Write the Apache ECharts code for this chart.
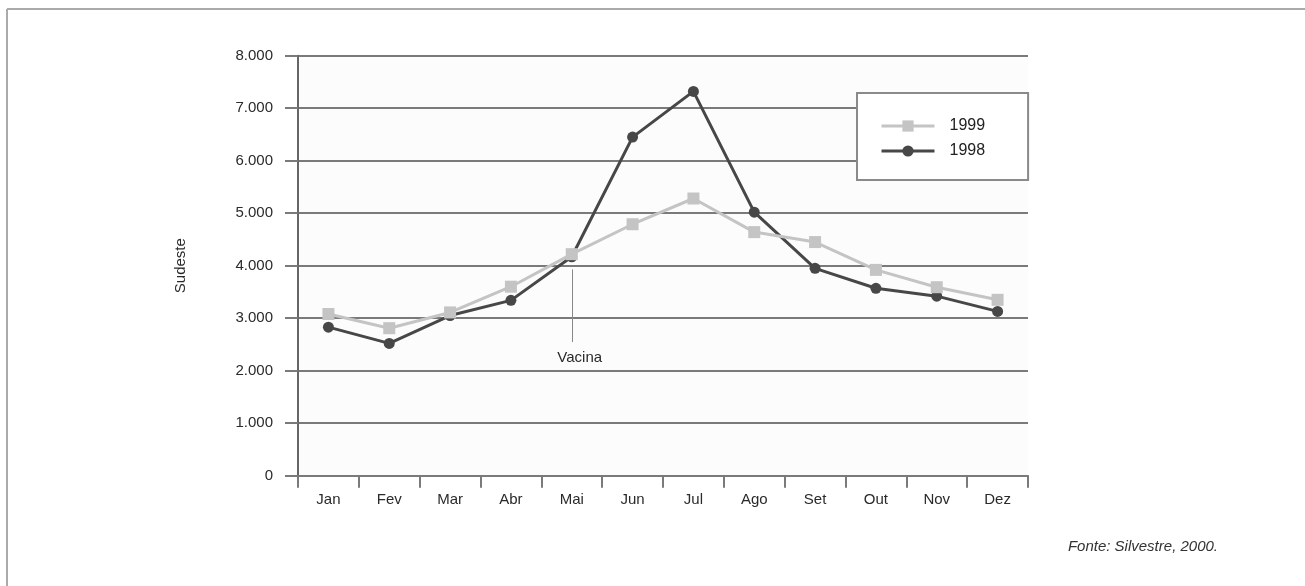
<!DOCTYPE html>
<html>
<head>
<meta charset="utf-8">
<script src="https://cdn.jsdelivr.net/npm/echarts@6/dist/echarts.min.js"></script>
<style>html,body{margin:0;padding:0;background:#fff}#c{width:1305px;height:586px}</style>
</head>
<body>
<div id="c"></div>
<script>
const categories = ['Jan','Fev','Mar','Abr','Mai','Jun','Jul','Ago','Set','Out','Nov','Dez'];
const values1999 = [3080, 2810, 3110, 3600, 4220, 4790, 5280, 4640, 4450, 3920, 3590, 3350];
const values1998 = [2830, 2520, 3050, 3340, 4170, 6450, 7320, 5020, 3950, 3570, 3420, 3130];
const vacinaMonth = 'Mai';
const vacinaRange = [3930, 2545];
const yTicks = [0, 1000, 2000, 3000, 4000, 5000, 6000, 7000, 8000];

const chart = echarts.init(document.getElementById('c'), null, {renderer: 'canvas'});
const font = 'Liberation Sans, Arial, sans-serif';
const gridColor = '#7a7a7a';

function fmt(v){
  if (v === 0) return '0';
  return String(v).replace(/\B(?=(\d{3})+(?!\d))/g, '.');
}

chart.setOption({
  animation: false,
  backgroundColor: '#fff',
  textStyle: {fontFamily: font},
  grid: {left: 298, right: 277, top: 55.7, bottom: 110.3, show: true, backgroundColor: '#fcfcfc', borderWidth: 0},
  legend: {
    data: ['1999', '1998'],
    orient: 'vertical',
    left: 857, top: 93,
    padding: [25, 43, 21, 23],
    itemWidth: 53, itemHeight: 14, itemGap: 9,
    backgroundColor: '#fff',
    borderColor: '#8a8a8a', borderWidth: 2, borderRadius: 0,
    lineStyle: {width: 3},
    textStyle: {fontSize: 16, color: '#222', fontFamily: font, padding: [0,0,0,10]}
  },
  xAxis: {
    type: 'category',
    data: categories,
    boundaryGap: true,
    axisLine: {show: true, lineStyle: {color: gridColor, width: 2}},
    axisTick: {show: true, length: 12, lineStyle: {color: gridColor, width: 2}},
    axisLabel: {color: '#2a2a2a', fontSize: 15, margin: 17, fontFamily: font},
    splitLine: {show: false}
  },
  yAxis: {
    type: 'value',
    min: yTicks[0], max: yTicks[yTicks.length-1], interval: 1000,
    name: 'Sudeste',
    nameLocation: 'middle',
    nameGap: 110,
    nameRotate: 90,
    nameTextStyle: {color: '#2a2a2a', fontSize: 15, fontFamily: font},
    axisLine: {show: true, lineStyle: {color: '#666', width: 2}},
    axisTick: {show: true, length: 13, lineStyle: {color: gridColor, width: 2}},
    axisLabel: {color: '#2a2a2a', fontSize: 15, margin: 25, formatter: fmt, fontFamily: font},
    splitLine: {show: true, lineStyle: {color: gridColor, width: 2}}
  },
  series: [
    {
      name: '1998',
      type: 'line',
      data: values1998,
      symbol: 'circle',
      symbolSize: 11,
      color: '#474747',
      lineStyle: {color: '#474747', width: 3},
      itemStyle: {color: '#474747'},
      z: 3,
      markLine: {
        silent: true,
        symbol: ['none', 'none'],
        lineStyle: {color: '#888', width: 1, type: 'solid'},
        label: {show: true, position: 'end', formatter: 'Vacina', color: '#2a2a2a', fontSize: 15, fontFamily: font, distance: 8, offset: [8, 0]},
        data: [[{coord: [vacinaMonth, vacinaRange[0]]}, {coord: [vacinaMonth, vacinaRange[1]]}]]
      }
    },
    {
      name: '1999',
      type: 'line',
      data: values1999,
      symbol: 'rect',
      symbolSize: 12,
      color: '#c4c4c4',
      lineStyle: {color: '#c4c4c4', width: 3},
      itemStyle: {color: '#c4c4c4'},
      z: 4
    }
  ],
  graphic: [
    {type: 'line', shape: {x1: 7, y1: 9, x2: 1305, y2: 9}, style: {stroke: '#aaa', lineWidth: 2}},
    {type: 'line', shape: {x1: 7, y1: 9, x2: 7, y2: 586}, style: {stroke: '#aaa', lineWidth: 2}},
    {type: 'text', right: 1305 - 1218, top: 539, style: {text: 'Fonte: Silvestre, 2000.', font: 'italic 15px ' + font, fill: '#333'}}
  ]
});
</script>
</body>
</html>
